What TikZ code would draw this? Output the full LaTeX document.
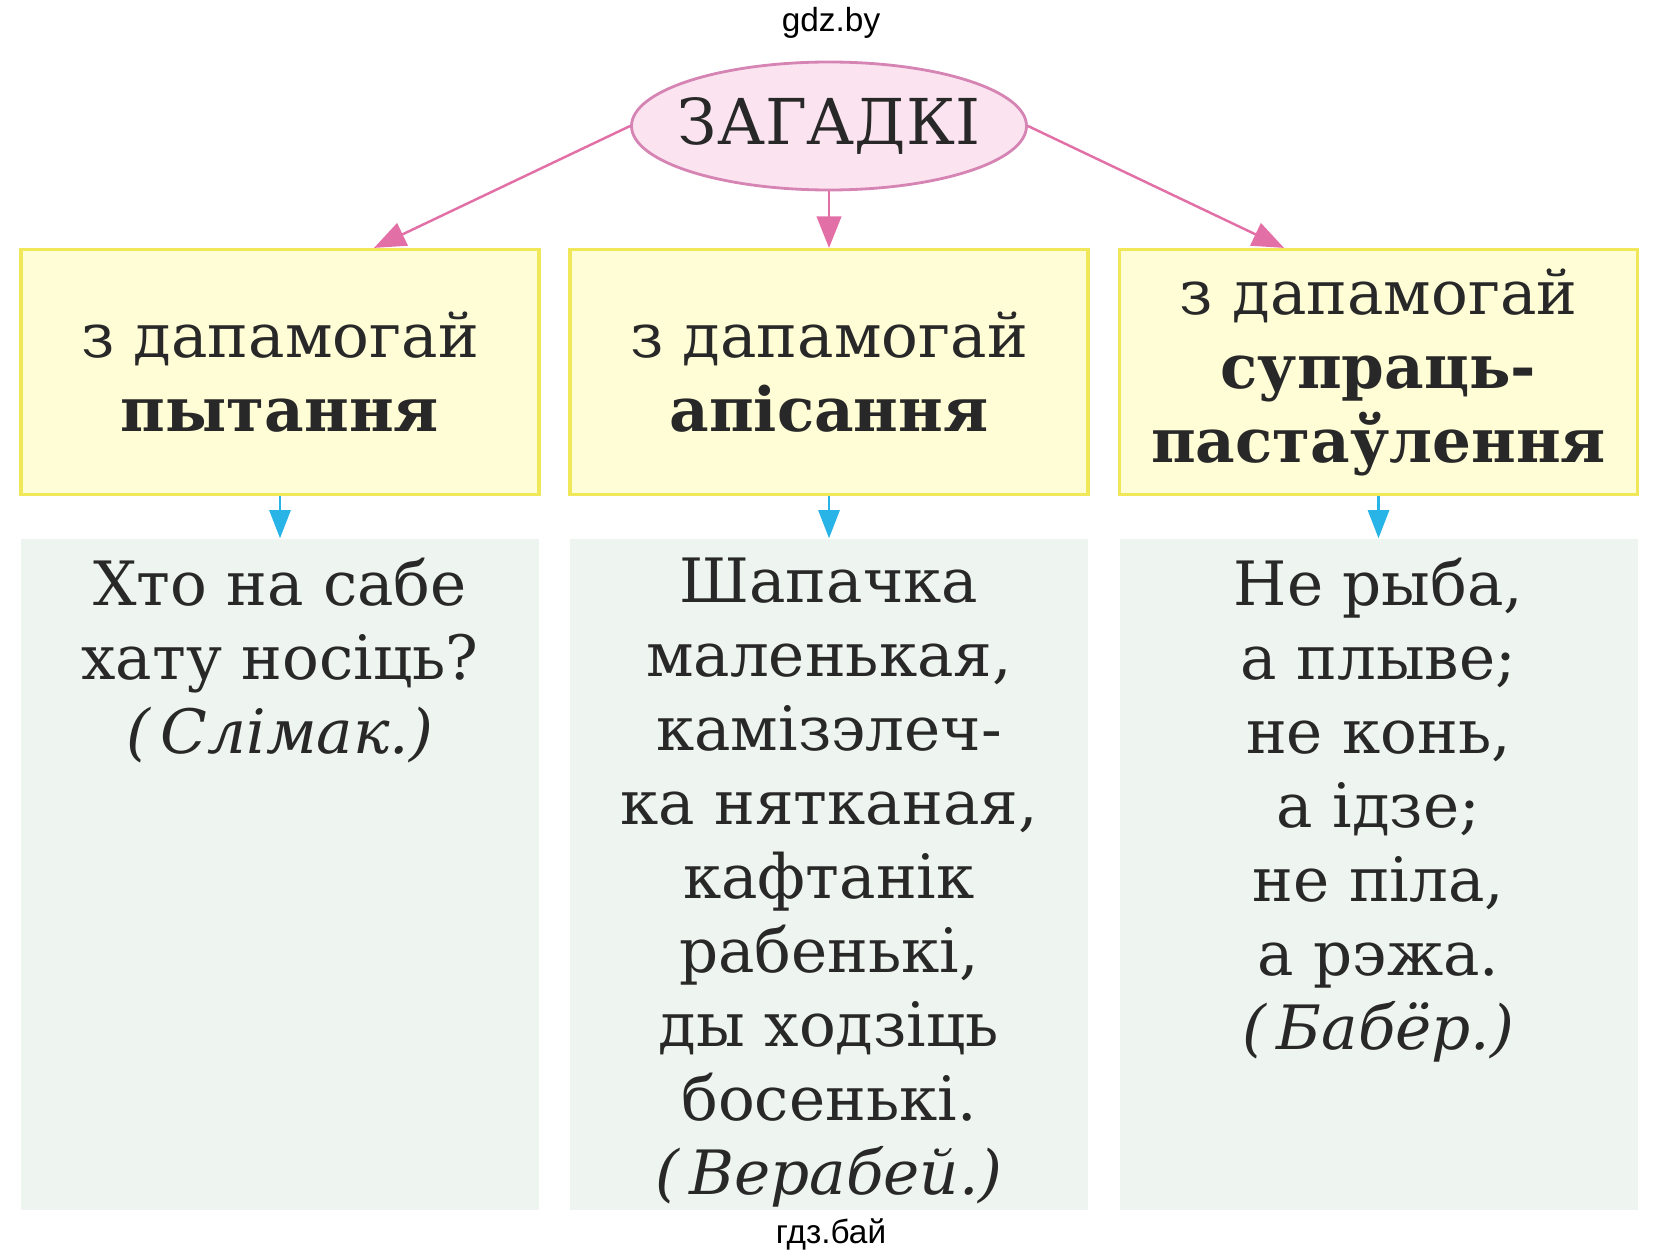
\documentclass[tikz,border=0pt]{standalone}
\usepackage{fontspec}
\setmainfont{DejaVu Serif}
\newfontfamily\marksans{Liberation Sans}
\usetikzlibrary{shapes.geometric,arrows.meta}

\definecolor{inkgrey}{RGB}{40,40,40}
\definecolor{rosepink}{RGB}{226,112,166}
\definecolor{roseedge}{RGB}{214,132,180}
\definecolor{rosefill}{RGB}{251,228,240}
\definecolor{boxyellow}{RGB}{240,232,88}
\definecolor{paleyellow}{RGB}{255,253,214}
\definecolor{palegreen}{RGB}{238,244,240}
\definecolor{skyblue}{RGB}{40,180,230}

\begin{document}
\begin{tikzpicture}[
    every node/.style={text=inkgrey},
    bigfont/.style={font=\fontsize{17.4}{21.05}\selectfont},
    topic/.style={ellipse,draw=roseedge,fill=rosefill,line width=0.8pt,
      minimum width=3.95cm,minimum height=1.28cm,inner xsep=-5pt,inner ysep=0pt,
      font=\fontsize{18}{22}\selectfont},
    headbox/.style={draw=boxyellow,fill=paleyellow,line width=0.9pt,
      minimum width=5.18cm,minimum height=2.45cm,align=center,bigfont},
    panel/.style={fill=palegreen,minimum width=5.18cm,minimum height=6.71cm},
    riddle/.style={align=center,anchor=north,inner sep=0pt,bigfont},
    pinkarrow/.style={draw=rosepink,line width=0.7pt,
      -{Triangle[length=9pt,width=7pt]}},
    bluearrow/.style={draw=skyblue,line width=0.7pt,
      -{Triangle[length=8pt,width=6pt]}},
    wmark/.style={font=\marksans\fontsize{9.5}{11}\selectfont,text=black}
  ]
    \useasboundingbox (0,0) rectangle (16.64,-12.59);

    \node[wmark] (wmtop) at (8.31,-0.23) {gdz.by};
    \node[topic] (topic) at (8.29,-1.26) {ЗАГАДКІ};

    % three ways
    \node[headbox] (hq) at (2.80,-3.72) {з дапамогай\\\textbf{пытання}};
    \node[headbox] (hd) at (8.29,-3.72) {з дапамогай\\\textbf{апісання}};
    \node[headbox] (hc) at (13.785,-3.72) {з дапамогай\\\textbf{супраць-}\\\textbf{пастаўлення}};

    \node[panel] (pq) at (2.80,-8.745) {};
    \node[panel] (pd) at (8.29,-8.745) {};
    \node[panel] (pc) at (13.785,-8.745) {};

    % riddles
    \node[riddle] (rq) at ([yshift=-0.19cm]pq.north)
      {Хто на сабе\\хату носіць?\\\textit{(\,Слімак.)}};
    \node[riddle] (rd) at ([yshift=-0.19cm]pd.north)
      {Шапачка\\маленькая,\\камізэлеч-\\ка нятканая,\\кафтанік\\рабенькі,\\ды ходзіць\\босенькі.\\\textit{(\,Верабей.)}};
    \node[riddle] (rc) at ([yshift=-0.19cm]pc.north)
      {Не рыба,\\а плыве;\\не конь,\\а ідзе;\\не піла,\\а рэжа.\\\textit{(\,Бабёр.)}};

    \node[wmark] (wmbot) at (8.31,-12.34) {гдз.бай};

    \draw[pinkarrow] (topic.west) -- ([xshift=0.94cm]hq.north);
    \draw[pinkarrow] (topic.south) -- (hd.north);
    \draw[pinkarrow] (topic.east) -- ([xshift=-0.945cm]hc.north);
    \draw[bluearrow] (hq.south) -- (pq.north);
    \draw[bluearrow] (hd.south) -- (pd.north);
    \draw[bluearrow] (hc.south) -- (pc.north);
  \end{tikzpicture}
\end{document}
